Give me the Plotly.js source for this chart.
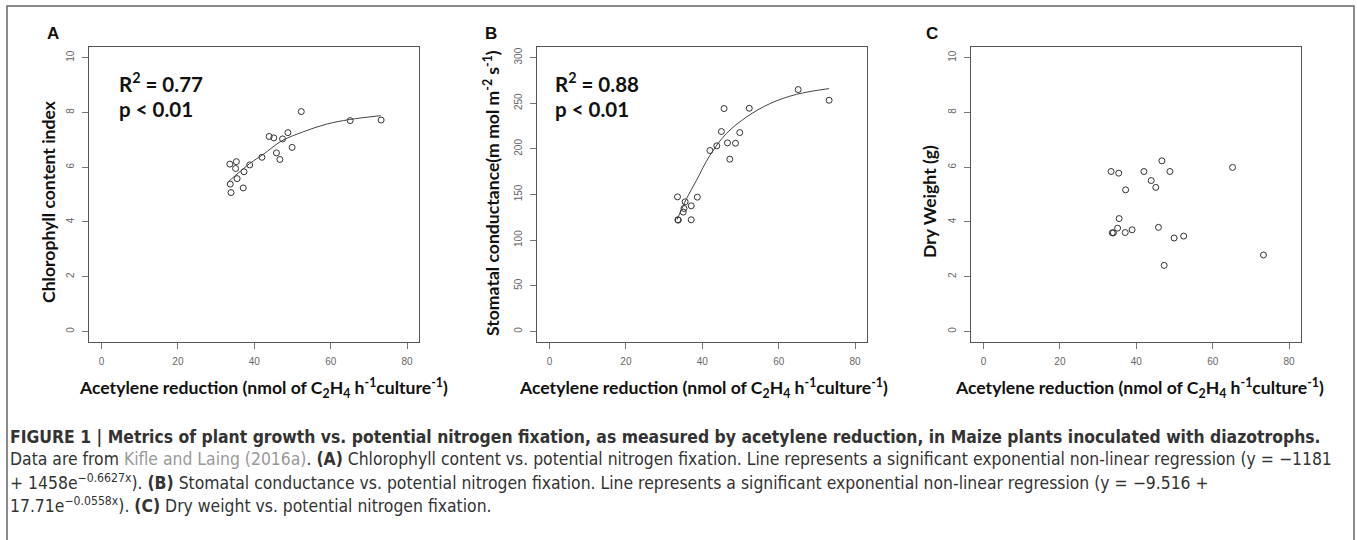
<!DOCTYPE html>
<html>
<head>
<meta charset="utf-8">
<script src="https://cdn.plot.ly/plotly-3.0.1.min.js"></script>
<style>html,body{margin:0;padding:0;background:#fff;}#chart{width:1357px;height:540px;}</style>
</head>
<body>
<div id="chart"></div>
<script>
// Panel A: chlorophyll content index vs acetylene reduction
var xA = [33.6, 33.7, 33.9, 35.3, 35.1, 35.5, 37.1, 37.3, 38.8, 42.0, 43.9, 45.1, 45.8, 46.7, 47.4, 48.8, 49.9, 52.3, 65.1, 73.2];
var yA = [6.11, 5.38, 5.07, 6.20, 5.95, 5.58, 5.24, 5.83, 6.08, 6.36, 7.12, 7.07, 6.52, 6.28, 7.03, 7.26, 6.72, 8.03, 7.70, 7.72];
// fitted curve A
var fitAx = [33.4, 38.8, 42.3, 47.2, 52.8, 58.9, 65.0, 73.1];
var fitAy = [5.49, 6.13, 6.46, 6.96, 7.29, 7.57, 7.74, 7.88];

// Panel B: stomatal conductance vs acetylene reduction
var xB = [33.5, 33.7, 33.6, 35.0, 35.2, 35.5, 37.1, 37.1, 38.7, 42.0, 43.8, 45.0, 45.7, 46.6, 47.2, 48.7, 49.8, 52.3, 65.1, 73.2];
var yB = [147.4, 121.9, 122.3, 130.7, 134.7, 142.0, 137.6, 122.3, 147.1, 198.2, 203.3, 219.0, 244.2, 206.6, 188.7, 206.2, 217.9, 244.5, 265.0, 253.3];
var fitBx = [33.4, 35.9, 38.5, 42.0, 46.3, 51.6, 57.7, 64.7, 73.2];
var fitBy = [122.6, 145.6, 165.7, 193.0, 216.8, 235.0, 249.6, 259.8, 266.1];

// Panel C: dry weight vs acetylene reduction
var xC = [33.4, 35.4, 35.5, 35.1, 33.7, 34.0, 37.2, 37.1, 38.9, 42.0, 43.9, 45.1, 46.7, 45.8, 48.8, 49.9, 52.4, 47.3, 65.2, 73.3];
var yC = [5.84, 5.78, 4.12, 3.77, 3.60, 3.60, 5.17, 3.61, 3.71, 5.84, 5.51, 5.26, 6.23, 3.80, 5.84, 3.41, 3.48, 2.41, 5.99, 2.79];

var xTicks = [0, 20, 40, 60, 80];
var yTicksA = [0, 2, 4, 6, 8, 10];
var yTicksB = [0, 50, 100, 150, 200, 250, 300];

var xTitle = 'Acetylene reduction (nmol of C<sub>2</sub>H<sub>4</sub> h<sup>-1</sup>culture<sup>-1</sup>)';
var yTitleA = 'Chlorophyll content index';
var yTitleB = 'Stomatal conductance(m mol m<sup>-2</sup> s<sup>-1</sup>)';
var yTitleC = 'Dry Weight (g)';

var W = 1357, H = 540;
function px(x){return x / W;}
function py(y){return 1 - y / H;}

var marker = {symbol: 'circle-open', size: 6, color: '#333', line: {width: 1, color: '#333'}};
var lineStyle = {color: '#444', width: 1, shape: 'spline'};

var traces = [
  {x: xA, y: yA, type: 'scatter', mode: 'markers', marker: marker, xaxis: 'x', yaxis: 'y', showlegend: false},
  {x: fitAx, y: fitAy, type: 'scatter', mode: 'lines', line: lineStyle, xaxis: 'x', yaxis: 'y', showlegend: false},
  {x: xB, y: yB, type: 'scatter', mode: 'markers', marker: marker, xaxis: 'x2', yaxis: 'y2', showlegend: false},
  {x: fitBx, y: fitBy, type: 'scatter', mode: 'lines', line: lineStyle, xaxis: 'x2', yaxis: 'y2', showlegend: false},
  {x: xC, y: yC, type: 'scatter', mode: 'markers', marker: marker, xaxis: 'x3', yaxis: 'y3', showlegend: false}
];

var tickFont = {family: 'Liberation Sans, Arial, sans-serif', size: 10, color: '#666'};
function xax(dom, anchor){
  return {domain: dom, anchor: anchor, range: [-3.2, 83.2], tickvals: xTicks, ticks: 'outside', ticklen: 6, tickcolor: '#777',
    showline: true, mirror: true, linecolor: '#555', linewidth: 1, showgrid: false, zeroline: false, tickfont: tickFont, ticklabelstandoff: 4, fixedrange: true};
}
function yax(rng, vals, anchor){
  return {domain: [py(342.3), py(46.7)], anchor: anchor, range: rng, tickvals: vals, ticks: 'outside', ticklen: 6, tickcolor: '#777',
    showline: true, mirror: true, linecolor: '#555', linewidth: 1, showgrid: false, zeroline: false, tickfont: tickFont, tickangle: -90, ticklabelstandoff: 4, fixedrange: true};
}

var titleFont = {family: 'Lato, Open Sans, sans-serif', size: 17.6, color: '#111'};
var statFont = {family: 'Lato, Open Sans, sans-serif', size: 20.5, color: '#111'};
var panelFont = {family: 'Liberation Sans, Arial, sans-serif', size: 17, color: '#111'};
var capFont = {family: 'Liberation Sans Narrow, DejaVu Sans Condensed, Liberation Sans, sans-serif', size: 17.4, color: '#333'};

function ann(text, x, y, font, opts){
  var a = {text: text, x: px(x), y: py(y), xref: 'paper', yref: 'paper', showarrow: false, font: font, xanchor: 'center', yanchor: 'middle'};
  for (var k in opts) a[k] = opts[k];
  return a;
}

var annotations = [
  ann('<b>A</b>', 53, 33, panelFont),
  ann('<b>B</b>', 491, 33, panelFont),
  ann('<b>C</b>', 932, 33, panelFont),
  ann('<b>' + xTitle + '</b>', 263, 388, titleFont),
  ann('<b>' + xTitle + '</b>', 703, 388, titleFont),
  ann('<b>' + xTitle + '</b>', 1139, 388, titleFont),
  ann('<b>' + yTitleA + '</b>', 49, 202, titleFont, {textangle: -90}),
  ann('<b>' + yTitleB + '</b>', 491, 193, titleFont, {textangle: -90}),
  ann('<b>' + yTitleC + '</b>', 930, 202, titleFont, {textangle: -90}),
  ann('<b>R<sup>2</sup> = 0.77</b>', 117, 82, statFont, {xanchor: 'left'}),
  ann('<b>p < 0.01</b>', 117, 109, statFont, {xanchor: 'left'}),
  ann('<b>R<sup>2</sup> = 0.88</b>', 553, 82, statFont, {xanchor: 'left'}),
  ann('<b>p < 0.01</b>', 553, 109, statFont, {xanchor: 'left'}),
  ann('<b>FIGURE 1 | Metrics of plant growth vs. potential nitrogen fixation, as measured by acetylene reduction, in Maize plants inoculated with diazotrophs.</b>', 8, 437, capFont, {xanchor: 'left'}),
  ann('Data are from <span style="color:#999">Kifle and Laing (2016a)</span>. <b>(A)</b> Chlorophyll content vs. potential nitrogen fixation. Line represents a significant exponential non-linear regression (y = −1181', 8, 459, capFont, {xanchor: 'left'}),
  ann('+ 1458e<sup>−0.6627x</sup>). <b>(B)</b> Stomatal conductance vs. potential nitrogen fixation. Line represents a significant exponential non-linear regression (y = −9.516 +', 8, 482, capFont, {xanchor: 'left'}),
  ann('17.71e<sup>−0.0558x</sup>). <b>(C)</b> Dry weight vs. potential nitrogen fixation.', 8, 505, capFont, {xanchor: 'left'})
];

var layout = {
  width: W, height: H, autosize: false,
  margin: {l: 0, r: 0, t: 0, b: 0},
  paper_bgcolor: '#fff', plot_bgcolor: '#fff',
  showlegend: false,
  xaxis: xax([px(89.3), px(419.3)], 'y'),
  yaxis: yax([-0.4, 10.4], yTicksA, 'x'),
  xaxis2: xax([px(537.3), px(867.3)], 'y2'),
  yaxis2: yax([-12, 312], yTicksB, 'x2'),
  xaxis3: xax([px(971.3), px(1301.3)], 'y3'),
  yaxis3: yax([-0.4, 10.4], yTicksA, 'x3'),
  annotations: annotations,
  shapes: [
    {type: 'rect', xref: 'paper', yref: 'paper', x0: px(7), x1: px(1354), y0: -0.1, y1: py(6), line: {color: '#666', width: 1.5}}
  ]
};

Plotly.newPlot('chart', traces, layout, {displayModeBar: false, staticPlot: true});
</script>
</body>
</html>
